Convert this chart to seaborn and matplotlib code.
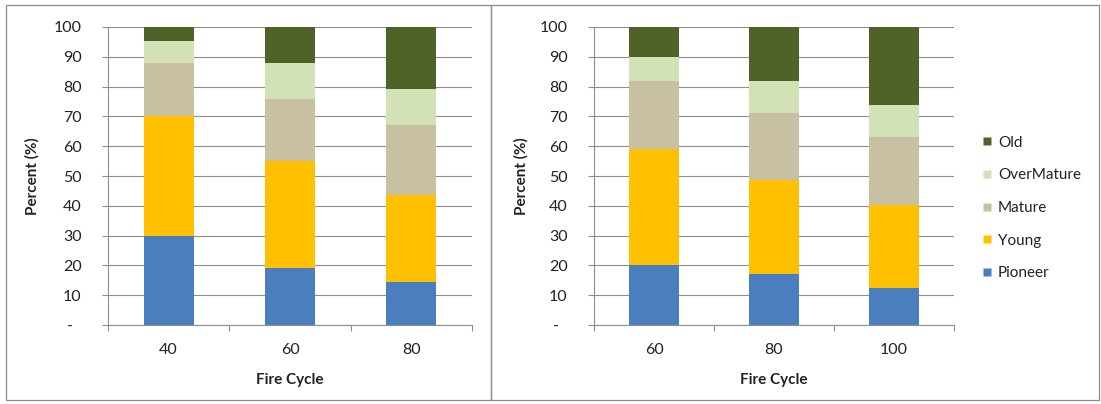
import numpy as np
import pandas as pd
import matplotlib
matplotlib.use("Agg")
import matplotlib.pyplot as plt
from matplotlib.patches import Rectangle
from matplotlib.lines import Line2D
import seaborn as sns

# ---------------- data ----------------
classes = ["Pioneer", "Young", "Mature", "OverMature", "Old"]

left_cycles = ["40", "60", "80"]
left_pioneer = [30.0, 19.0, 14.3]
left_young = [40.2, 36.2, 29.2]
left_mature = [17.8, 20.8, 23.5]
left_overmature = [7.4, 11.8, 12.2]
left_old = [4.6, 12.2, 20.8]

right_cycles = ["60", "80", "100"]
right_pioneer = [20.2, 17.1, 12.3]
right_young = [38.8, 31.6, 28.0]
right_mature = [23.0, 22.3, 22.7]
right_overmature = [7.9, 11.0, 10.7]
right_old = [10.1, 18.0, 26.3]

y_ticks = [0, 10, 20, 30, 40, 50, 60, 70, 80, 90, 100]
y_ticklabels = ["-  ", "10", "20", "30", "40", "50", "60", "70", "80", "90", "100"]

colors = {
    "Pioneer": "#4A7EBF",
    "Young": "#FFC000",
    "Mature": "#C8C0A2",
    "OverMature": "#D2E2B6",
    "Old": "#4F6228",
}

sns.set_style("white")
plt.rcParams["font.family"] = ["Lato", "DejaVu Sans"]

fig = plt.figure(figsize=(11.01, 4.04), dpi=100)
W, H = 1101, 404

# panel frames
fig.add_artist(Rectangle((6 / W, 1 - 400 / H), (491 - 6) / W, (400 - 5) / H,
                         transform=fig.transFigure, fill=False, edgecolor="#8C8C8C", lw=0.9))
fig.add_artist(Rectangle((491 / W, 1 - 400 / H), (1099 - 491) / W, (400 - 5) / H,
                         transform=fig.transFigure, fill=False, edgecolor="#8C8C8C", lw=0.9))


def draw_panel(ax, cycles, series, width, ypad):
    df = pd.DataFrame({"cycle": cycles})
    for name, vals in zip(classes, series):
        df[name] = vals
    cum = df[classes].cumsum(axis=1)
    # draw tallest cumulative first so lower segments overlay
    for name in reversed(classes):
        sns.barplot(x=df["cycle"], y=cum[name], color=colors[name], ax=ax,
                    width=width, saturation=1, order=cycles, label=name,
                    edgecolor="none", linewidth=0, zorder=3)
    ax.set_ylim(0, 100)
    ax.set_xlim(-0.5, 2.5)
    ax.set_yticks(y_ticks)
    ax.set_yticklabels(y_ticklabels)
    ax.yaxis.grid(True, color="#8E8E8E", lw=0.8, zorder=0)
    ax.set_axisbelow(True)
    for s in ["top", "right"]:
        ax.spines[s].set_visible(False)
    for s in ["left", "bottom"]:
        ax.spines[s].set_color("#8E8E8E")
        ax.spines[s].set_linewidth(0.8)
    ax.tick_params(axis="y", length=4, width=0.8, color="#8E8E8E", direction="out",
                   labelsize=11.5, labelcolor="#222222", pad=ypad, left=True)
    ax.set_xticks([0, 1, 2])
    ax.set_xticklabels(cycles)
    ax.tick_params(axis="x", length=0, labelsize=11.5, labelcolor="#222222", pad=13)
    ax.set_xticks([-0.5, 0.5, 1.5, 2.5], minor=True)
    ax.tick_params(axis="x", which="minor", length=4, width=0.8, color="#8E8E8E",
                   direction="out", bottom=True)
    ax.set_xlabel("Fire Cycle", fontsize=11, fontweight="bold", color="#222222")
    ax.set_ylabel("Percent (%)", fontsize=11, fontweight="bold", color="#222222")
    ax.xaxis.set_label_coords(0.5, -0.16)
    if ax.get_legend() is not None:
        ax.get_legend().remove()


ax1 = fig.add_axes([108 / W, 79 / H, 364 / W, 298 / H])
draw_panel(ax1, left_cycles,
           [left_pioneer, left_young, left_mature, left_overmature, left_old], 0.41, 15)
ax1.yaxis.set_label_coords(-0.187, 0.5)

ax2 = fig.add_axes([594 / W, 79 / H, 360 / W, 298 / H])
draw_panel(ax2, right_cycles,
           [right_pioneer, right_young, right_mature, right_overmature, right_old], 0.41, 15)
ax2.yaxis.set_label_coords(-0.183, 0.5)

handles = [Line2D([0], [0], marker="s", ls="none", markersize=6,
                  markerfacecolor=colors[c], markeredgecolor="none") for c in reversed(classes)]
fig.legend(handles, list(reversed(classes)), loc="center left",
           bbox_to_anchor=(975 / W, 1 - 208 / H), frameon=False, fontsize=11,
           handlelength=0.6, handletextpad=0.4, labelspacing=1.22, borderpad=0,
           labelcolor="#222222")

fig.savefig("out.png", dpi=100)
